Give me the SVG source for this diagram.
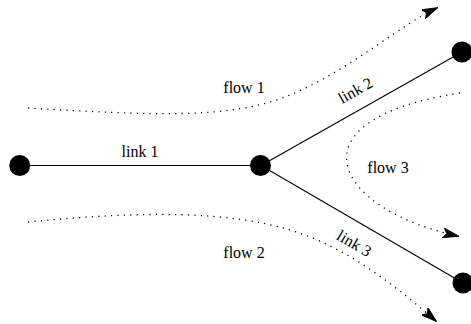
<svg xmlns="http://www.w3.org/2000/svg" width="471" height="324" viewBox="0 0 471 324">
<style>
.link{stroke:#000;stroke-width:1.1;fill:none}
.flow{stroke:#000;stroke-width:1.3;fill:none;stroke-dasharray:1.2 5.2;marker-end:url(#arr)}
.node{fill:#000}
.lbl{font-family:'Liberation Serif','Times New Roman',serif;font-size:16px;fill:#000;text-anchor:middle}
</style>
<defs>
<marker id="arr" viewBox="0 0 16 10" refX="15" refY="5" markerWidth="16" markerHeight="10" markerUnits="userSpaceOnUse" orient="auto">
<path d="M0,0 L16,5 L0,10 L3.5,5 Z" fill="#000" stroke="#000" stroke-width="0.8"/>
</marker>
</defs>
<g id="connectors">
<line class="link" x1="20" y1="165.5" x2="261" y2="165.5"/>
<line class="link" x1="261" y1="165.5" x2="462" y2="52"/>
<line class="link" x1="261" y1="165.5" x2="463" y2="283"/>
<path class="flow" d="M28,108 C150,115 230,120 290,95 S400,25 437,8"/>
<path class="flow" d="M28,222 C150,210 230,212 290,230 S400,290 436,321"/>
<path class="flow" d="M460,93 C285,120 335,210 458,236"/>
</g>
<g id="node-a"><circle class="node" cx="19.7" cy="165.5" r="10.5"/></g>
<g id="node-b"><circle class="node" cx="260.5" cy="165.5" r="10.5"/></g>
<g id="node-c"><circle class="node" cx="462" cy="52" r="10.5"/></g>
<g id="node-d"><circle class="node" cx="463" cy="283" r="10.5"/></g>
<g id="labels">
<text class="lbl" x="140" y="157">link 1</text>
<text class="lbl" x="358" y="95" transform="rotate(-29.3 358 95)">link 2</text>
<text class="lbl" x="351.5" y="248" transform="rotate(30.3 351.5 248)">link 3</text>
<text class="lbl" x="244" y="93">flow 1</text>
<text class="lbl" x="244" y="258">flow 2</text>
<text class="lbl" x="388" y="173">flow 3</text>
</g>
</svg>
